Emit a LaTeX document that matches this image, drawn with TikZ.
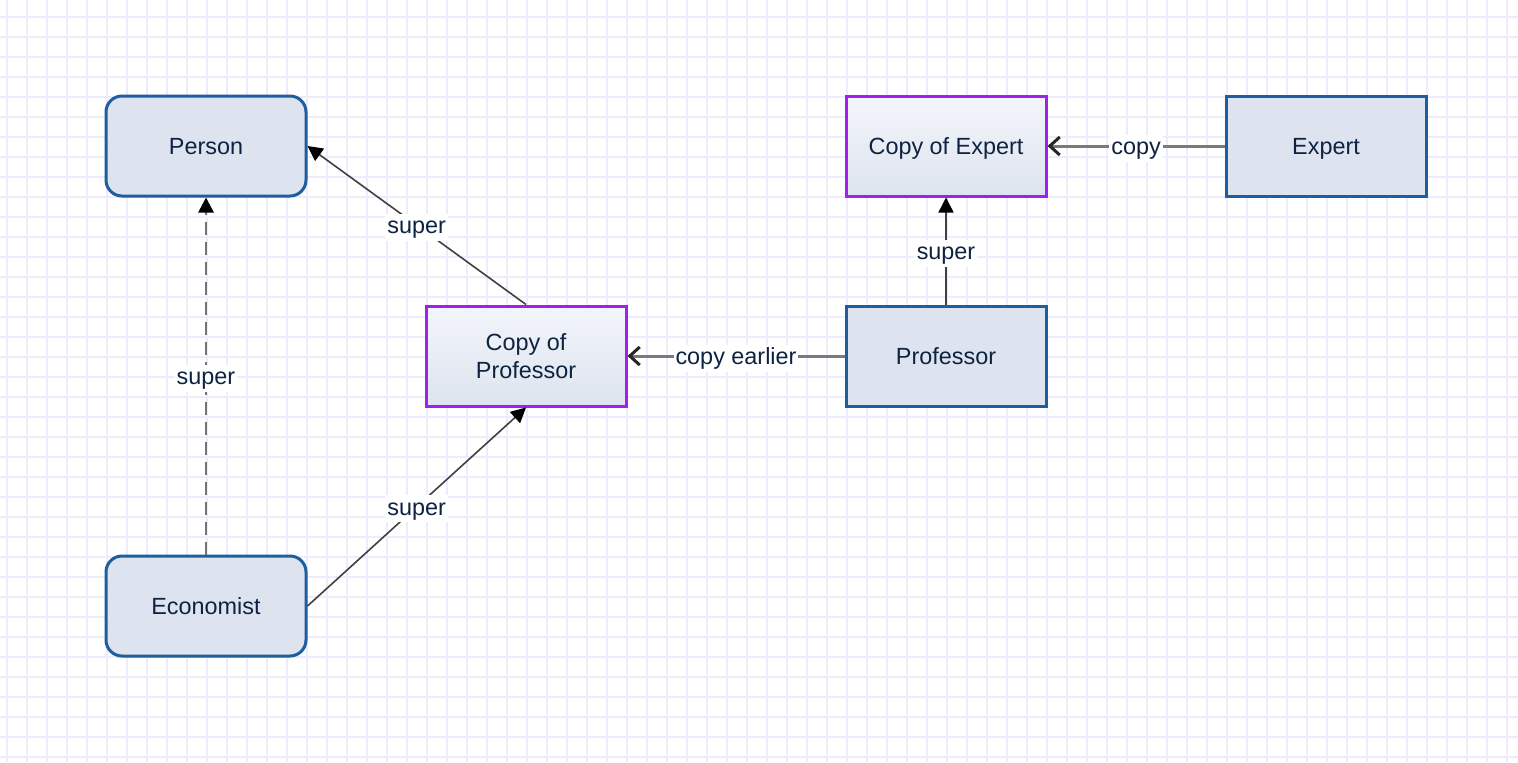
\documentclass[tikz,border=0pt]{standalone}
\usepackage{fontspec}
\setmainfont{Liberation Sans}
\usetikzlibrary{arrows.meta, positioning}
\definecolor{gridline}{HTML}{EEEBFC}
\definecolor{boxblue}{HTML}{1E5E9E}
\definecolor{boxfill}{HTML}{DDE4EF}
\definecolor{boxtop}{HTML}{F3F5FA}
\definecolor{copypurple}{HTML}{A020F0}
\definecolor{textnavy}{HTML}{0E2341}
\definecolor{copygray}{HTML}{7A7A7A}

\begin{document}
\begin{tikzpicture}[x=0.5pt, y=-0.5pt,
    font=\fontsize{11.7}{14}\selectfont, text=textnavy,
    class/.style={draw=boxblue, line width=1.5pt, fill=boxfill,
        minimum width=100pt, minimum height=50pt, align=center},
    oneline/.style={text height=1.05em, text depth=0.25em},
    rclass/.style={class, oneline, rounded corners=8pt},
    copied/.style={class, draw=copypurple, top color=boxtop, bottom color=boxfill},
    super/.style={-{Triangle[length=7.5pt, width=7.5pt, color=black]}, line width=0.8pt, draw=black!75},
    copyof/.style={-{Straight Barb[length=5pt, width=9pt, color=black!85]}, line width=1.5pt, draw=copygray},
    lbl/.style={fill=white, inner sep=1pt, text height=0.9em, text depth=0.25em, yshift=-1pt}]
    \useasboundingbox (0,0) rectangle (1518,762);
    % grid
    \foreach \x in {7,27,...,1518}
        \draw[gridline, line width=0.75pt] (\x,0) -- (\x,762);
    \foreach \y in {17,37,...,762}
        \draw[gridline, line width=0.75pt] (0,\y) -- (1518,\y);

    \node[rclass] (person) at (206,146) {Person};
    \node[rclass] (econ) at (206,606) {Economist};
    \node[copied] (cprof) at (526,356) {Copy of\\Professor};
    \node[class, oneline] (prof) at (946,356) {Professor};
    \node[copied, oneline] (cexp) at (946,146) {Copy of Expert};
    \node[class, oneline] (expert) at (1326,146) {Expert};

    \draw[super] (cprof.north) -- node[lbl] {super} (person.east);
    \draw[super] (econ.east) -- node[lbl] {super} (cprof.south);
    \draw[super] (prof.north) -- node[lbl] {super} (cexp.south);
    \draw[super, draw=black!55, line width=1.4pt, dash pattern=on 6.5pt off 3.5pt]
        (econ.north) -- node[lbl] {super} (person.south);
    \draw[copyof] (prof.west) -- node[lbl] {copy earlier} (cprof.east);
    \draw[copyof] (expert.west) -- node[lbl] {copy} (cexp.east);
\end{tikzpicture}
\end{document}
